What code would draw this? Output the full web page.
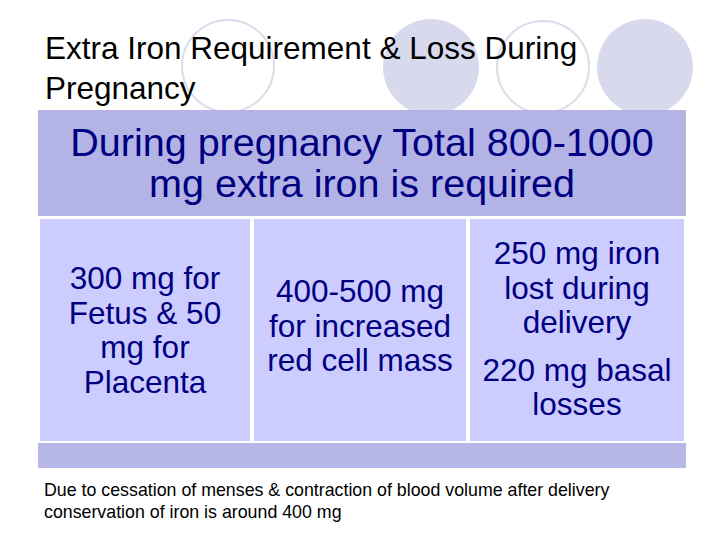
<!DOCTYPE html>
<html><head><meta charset="utf-8">
<script src="https://cdn.jsdelivr.net/npm/chart.js@4"></script>
<style>
body{margin:0;width:720px;height:540px;background:#fff;font-family:"Liberation Sans",Arial,sans-serif;position:relative;overflow:hidden}
.abs{position:absolute}
.title{left:45px;top:28px;font-size:31.5px;line-height:40px;color:#000;white-space:nowrap}
.head{left:38px;top:110px;width:648px;height:106px;background:#b3b3e6;color:#000080;font-size:39.5px;line-height:41px;text-align:center;display:flex;align-items:center;justify-content:center;white-space:nowrap}
.cell{top:219px;height:222px;background:#ccccff;display:flex;align-items:center;justify-content:center;text-align:center;color:#000080;font-size:31.5px;line-height:34.5px;white-space:nowrap}
.strip{left:38px;top:443px;width:648px;height:25px;background:#b8b8e8}
.foot{left:44px;top:479px;font-size:17.8px;line-height:22px;white-space:nowrap}
</style></head><body>
<svg class="abs" style="left:0;top:0" width="720" height="120">
<circle cx="228" cy="66" r="46" fill="none" stroke="#dcdcec" stroke-width="2"/>
<circle cx="431" cy="67" r="48" fill="#d9d9ee"/>
<circle cx="543" cy="67" r="46" fill="none" stroke="#dcdcec" stroke-width="2"/>
<circle cx="645" cy="67" r="48" fill="#d9d9ee"/>
</svg>
<div class="abs title">Extra Iron Requirement &amp; Loss During<br>Pregnancy</div>
<div class="abs head">During pregnancy Total 800-1000<br>mg extra iron is required</div>
<div class="abs cell" style="left:40px;width:210px"><div>300 mg for<br>Fetus &amp; 50<br>mg for<br>Placenta</div></div>
<div class="abs cell" style="left:254px;width:212px"><div style="margin-top:-8px">400-500 mg<br>for increased<br>red cell mass</div></div>
<div class="abs cell" style="left:470px;width:214px"><div style="margin-top:-2px">250 mg iron<br>lost during<br>delivery<br><span style="display:block;margin-top:13px">220 mg basal<br>losses</span></div></div>
<div class="abs strip"></div>
<div class="abs foot">Due to cessation of menses &amp; contraction of blood volume after delivery<br>conservation of iron is around 400 mg</div>
</body></html>
